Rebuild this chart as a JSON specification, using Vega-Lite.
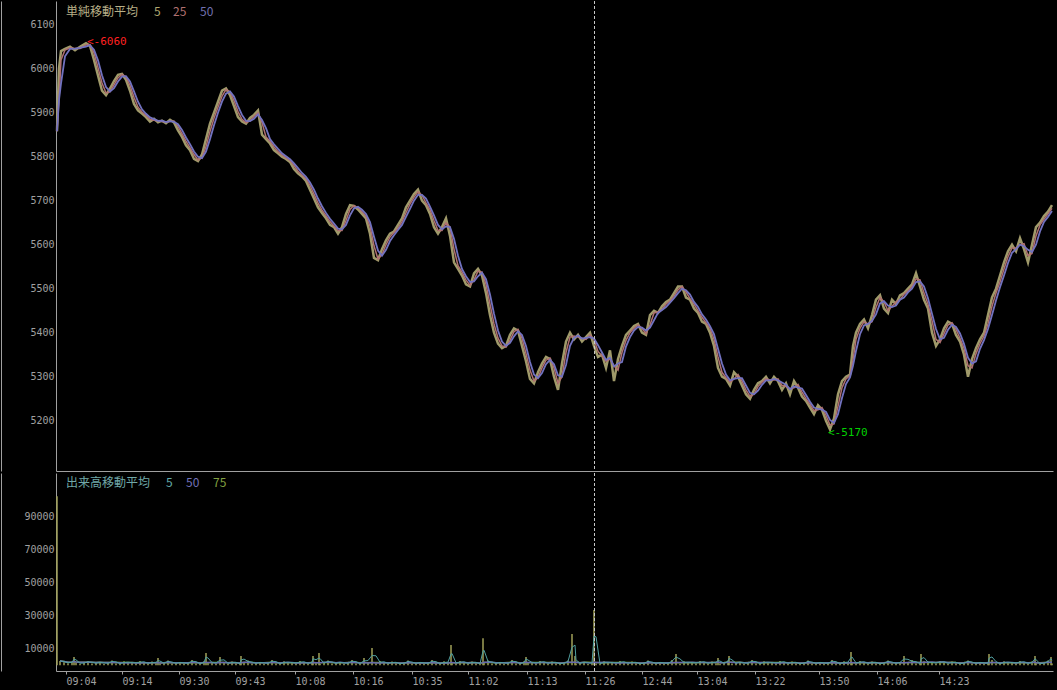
{
"$schema": "https://vega.github.io/schema/vega-lite/v6.json",
"background": "#000000",
"padding": 0,
"spacing": 0,
"config": {"view": {"stroke": null}, "concat": {"spacing": 0},
  "axis": {"domainColor": "#a0a0a0", "labelColor": "#a0a0a0", "tickColor": "#a0a0a0", "labelFont": "DejaVu Sans Mono", "labelFontSize": 10, "grid": false, "titleColor": "#a0a0a0"}},
"resolve": {"scale": {"color": "independent"}},
"datasets": {
"price": [
{"i":1,"p":5858},{"i":3,"p":6000},{"i":5,"p":6040},{"i":9,"p":6045},{"i":14,"p":6050},{"i":19,"p":6042},{"i":24,"p":6050},{"i":30,"p":6058},{"i":34,"p":6052},{"i":38,"p":6020},
{"i":42,"p":5985},{"i":46,"p":5950},{"i":50,"p":5940},{"i":54,"p":5955},{"i":58,"p":5972},{"i":62,"p":5986},{"i":66,"p":5988},{"i":70,"p":5975},{"i":74,"p":5950},{"i":78,"p":5920},
{"i":82,"p":5905},{"i":86,"p":5898},{"i":90,"p":5890},{"i":94,"p":5880},{"i":98,"p":5886},{"i":102,"p":5878},{"i":106,"p":5882},{"i":110,"p":5876},{"i":114,"p":5884},{"i":118,"p":5878},
{"i":122,"p":5860},{"i":126,"p":5845},{"i":130,"p":5826},{"i":134,"p":5815},{"i":138,"p":5795},{"i":142,"p":5790},{"i":146,"p":5805},{"i":150,"p":5840},{"i":154,"p":5875},{"i":158,"p":5900},
{"i":162,"p":5925},{"i":166,"p":5950},{"i":170,"p":5955},{"i":174,"p":5940},{"i":178,"p":5915},{"i":182,"p":5890},{"i":186,"p":5880},{"i":190,"p":5875},{"i":194,"p":5888},{"i":198,"p":5895},
{"i":202,"p":5905},{"i":206,"p":5850},{"i":210,"p":5840},{"i":214,"p":5830},{"i":218,"p":5815},{"i":222,"p":5808},{"i":226,"p":5800},{"i":230,"p":5795},{"i":234,"p":5788},{"i":238,"p":5772},
{"i":242,"p":5762},{"i":246,"p":5755},{"i":250,"p":5745},{"i":254,"p":5725},{"i":258,"p":5705},{"i":262,"p":5685},{"i":266,"p":5672},{"i":270,"p":5660},{"i":274,"p":5645},{"i":278,"p":5640},
{"i":282,"p":5625},{"i":286,"p":5640},{"i":290,"p":5670},{"i":294,"p":5690},{"i":298,"p":5688},{"i":302,"p":5680},{"i":306,"p":5670},{"i":310,"p":5660},{"i":314,"p":5625},{"i":318,"p":5570},
{"i":322,"p":5565},{"i":326,"p":5590},{"i":330,"p":5610},{"i":334,"p":5625},{"i":338,"p":5630},{"i":342,"p":5645},{"i":346,"p":5660},{"i":350,"p":5685},{"i":354,"p":5700},{"i":358,"p":5715},
{"i":362,"p":5725},{"i":366,"p":5700},{"i":370,"p":5690},{"i":374,"p":5670},{"i":378,"p":5640},{"i":382,"p":5625},{"i":386,"p":5640},{"i":390,"p":5660},{"i":394,"p":5620},{"i":398,"p":5560},
{"i":402,"p":5545},{"i":406,"p":5530},{"i":410,"p":5510},{"i":414,"p":5505},{"i":418,"p":5535},{"i":422,"p":5545},{"i":426,"p":5530},{"i":430,"p":5490},{"i":434,"p":5440},{"i":438,"p":5400},
{"i":442,"p":5375},{"i":446,"p":5365},{"i":450,"p":5370},{"i":454,"p":5395},{"i":458,"p":5410},{"i":462,"p":5405},{"i":466,"p":5370},{"i":470,"p":5335},{"i":474,"p":5295},{"i":478,"p":5285},
{"i":482,"p":5310},{"i":486,"p":5330},{"i":490,"p":5345},{"i":494,"p":5340},{"i":498,"p":5300},{"i":502,"p":5270},{"i":506,"p":5330},{"i":510,"p":5380},{"i":514,"p":5400},{"i":518,"p":5385},
{"i":522,"p":5395},{"i":526,"p":5380},{"i":530,"p":5390},{"i":534,"p":5400},{"i":538,"p":5370},{"i":542,"p":5345},{"i":546,"p":5350},{"i":550,"p":5320},{"i":554,"p":5360},{"i":558,"p":5290},
{"i":562,"p":5340},{"i":566,"p":5370},{"i":570,"p":5395},{"i":574,"p":5405},{"i":578,"p":5415},{"i":582,"p":5420},{"i":586,"p":5400},{"i":590,"p":5395},{"i":594,"p":5440},{"i":598,"p":5450},
{"i":602,"p":5445},{"i":606,"p":5460},{"i":610,"p":5470},{"i":614,"p":5475},{"i":618,"p":5490},{"i":622,"p":5505},{"i":626,"p":5505},{"i":630,"p":5480},{"i":634,"p":5475},{"i":638,"p":5455},
{"i":642,"p":5445},{"i":646,"p":5425},{"i":650,"p":5420},{"i":654,"p":5400},{"i":658,"p":5370},{"i":662,"p":5320},{"i":666,"p":5300},{"i":670,"p":5295},{"i":674,"p":5280},{"i":678,"p":5310},
{"i":682,"p":5300},{"i":686,"p":5280},{"i":690,"p":5260},{"i":694,"p":5250},{"i":698,"p":5270},{"i":702,"p":5285},{"i":706,"p":5290},{"i":710,"p":5300},{"i":714,"p":5285},{"i":718,"p":5300},
{"i":722,"p":5290},{"i":726,"p":5270},{"i":730,"p":5285},{"i":734,"p":5260},{"i":738,"p":5290},{"i":742,"p":5275},{"i":746,"p":5255},{"i":750,"p":5245},{"i":754,"p":5230},{"i":758,"p":5215},
{"i":762,"p":5235},{"i":766,"p":5225},{"i":770,"p":5200},{"i":774,"p":5180},{"i":778,"p":5205},{"i":782,"p":5260},{"i":786,"p":5290},{"i":790,"p":5300},{"i":794,"p":5305},{"i":797,"p":5370},
{"i":800,"p":5400},{"i":804,"p":5420},{"i":808,"p":5430},{"i":812,"p":5410},{"i":816,"p":5440},{"i":820,"p":5475},{"i":824,"p":5485},{"i":828,"p":5455},{"i":832,"p":5445},{"i":836,"p":5475},
{"i":840,"p":5465},{"i":844,"p":5485},{"i":848,"p":5490},{"i":852,"p":5500},{"i":856,"p":5510},{"i":860,"p":5535},{"i":864,"p":5505},{"i":868,"p":5475},{"i":872,"p":5455},{"i":876,"p":5400},
{"i":880,"p":5370},{"i":884,"p":5385},{"i":888,"p":5410},{"i":892,"p":5425},{"i":896,"p":5420},{"i":900,"p":5395},{"i":904,"p":5380},{"i":908,"p":5350},{"i":912,"p":5300},{"i":916,"p":5340},
{"i":920,"p":5365},{"i":924,"p":5385},{"i":928,"p":5400},{"i":932,"p":5440},{"i":936,"p":5480},{"i":940,"p":5500},{"i":944,"p":5530},{"i":948,"p":5560},{"i":952,"p":5585},{"i":956,"p":5600},
{"i":960,"p":5585},{"i":964,"p":5615},{"i":968,"p":5590},{"i":972,"p":5560},{"i":976,"p":5600},{"i":980,"p":5640},{"i":984,"p":5650},{"i":988,"p":5665},{"i":992,"p":5675},{"i":996,"p":5690}
],
"vol": [
{"i":1,"v":102000},{"i":4,"v":2600},{"i":8,"v":1800},{"i":12,"v":1200},{"i":16,"v":2200},{"i":18,"v":5000},{"i":20,"v":1500},{"i":24,"v":900},{"i":28,"v":1700},{"i":32,"v":2400},{"i":36,"v":1100},{"i":40,"v":1400},
{"i":44,"v":2000},{"i":48,"v":800},{"i":52,"v":1600},{"i":56,"v":2900},{"i":60,"v":1100},{"i":64,"v":900},{"i":68,"v":2400},{"i":72,"v":1300},{"i":76,"v":1900},{"i":80,"v":1000},
{"i":84,"v":2600},{"i":88,"v":1500},{"i":92,"v":900},{"i":96,"v":2300},{"i":100,"v":1200},{"i":102,"v":4300},{"i":104,"v":700},{"i":108,"v":1800},{"i":112,"v":2800},{"i":116,"v":1000},
{"i":120,"v":1400},{"i":124,"v":2000},{"i":128,"v":800},{"i":132,"v":1600},{"i":136,"v":3200},{"i":140,"v":1100},{"i":144,"v":900},{"i":148,"v":2400},{"i":150,"v":7400},{"i":152,"v":1300},
{"i":156,"v":1900},{"i":160,"v":1000},{"i":164,"v":5000},{"i":168,"v":1500},{"i":172,"v":900},{"i":176,"v":2300},{"i":180,"v":1200},{"i":184,"v":700},{"i":185,"v":5600},{"i":188,"v":1800},
{"i":192,"v":2800},{"i":196,"v":1000},{"i":200,"v":1400},{"i":204,"v":2000},{"i":208,"v":800},{"i":212,"v":1600},{"i":216,"v":3200},{"i":220,"v":1100},{"i":224,"v":900},{"i":228,"v":2400},
{"i":232,"v":1300},{"i":236,"v":1900},{"i":240,"v":1000},{"i":244,"v":2600},{"i":248,"v":1500},{"i":252,"v":900},{"i":256,"v":2300},{"i":257,"v":5500},{"i":260,"v":1200},{"i":263,"v":7400},
{"i":264,"v":700},{"i":268,"v":1800},{"i":272,"v":2800},{"i":276,"v":1000},{"i":280,"v":1400},{"i":284,"v":2000},{"i":288,"v":800},{"i":292,"v":1600},{"i":296,"v":3200},{"i":300,"v":1100},
{"i":304,"v":900},{"i":308,"v":4300},{"i":312,"v":1300},{"i":316,"v":10400},{"i":320,"v":1000},{"i":324,"v":2600},{"i":328,"v":1500},{"i":332,"v":900},{"i":336,"v":2300},{"i":340,"v":1200},
{"i":344,"v":700},{"i":348,"v":1800},{"i":352,"v":2800},{"i":356,"v":1000},{"i":360,"v":1400},{"i":364,"v":2000},{"i":368,"v":800},{"i":372,"v":1600},{"i":376,"v":3200},{"i":380,"v":1100},
{"i":384,"v":900},{"i":388,"v":2400},{"i":392,"v":1300},{"i":395,"v":12200},{"i":396,"v":1900},{"i":400,"v":1000},{"i":404,"v":2600},{"i":408,"v":1500},{"i":412,"v":900},{"i":416,"v":2300},
{"i":420,"v":1200},{"i":424,"v":700},{"i":427,"v":16300},{"i":428,"v":1800},{"i":432,"v":2800},{"i":436,"v":1000},{"i":440,"v":1400},{"i":444,"v":2000},{"i":448,"v":800},{"i":452,"v":1600},
{"i":456,"v":3200},{"i":460,"v":1100},{"i":464,"v":900},{"i":468,"v":2400},{"i":470,"v":5000},{"i":472,"v":1300},{"i":476,"v":1900},{"i":480,"v":1000},{"i":484,"v":2600},{"i":488,"v":1500},
{"i":492,"v":900},{"i":496,"v":2300},{"i":500,"v":1200},{"i":504,"v":700},{"i":508,"v":1800},{"i":512,"v":2800},{"i":516,"v":18800},{"i":519,"v":5500},{"i":520,"v":1000},{"i":524,"v":1400},
{"i":528,"v":2000},{"i":532,"v":800},{"i":536,"v":1600},{"i":538,"v":33300},{"i":540,"v":1100},{"i":544,"v":900},{"i":548,"v":2400},{"i":552,"v":1300},{"i":556,"v":1900},{"i":560,"v":1000},
{"i":564,"v":2600},{"i":568,"v":1500},{"i":572,"v":900},{"i":576,"v":2300},{"i":580,"v":1200},{"i":584,"v":700},{"i":588,"v":1800},{"i":592,"v":2800},{"i":596,"v":1000},{"i":600,"v":1400},
{"i":604,"v":2000},{"i":608,"v":800},{"i":612,"v":1600},{"i":616,"v":3200},{"i":620,"v":6700},{"i":624,"v":900},{"i":628,"v":2400},{"i":632,"v":1300},{"i":636,"v":1900},{"i":640,"v":1000},
{"i":644,"v":2600},{"i":648,"v":1500},{"i":652,"v":900},{"i":656,"v":2300},{"i":660,"v":1200},{"i":662,"v":4300},{"i":664,"v":700},{"i":668,"v":1800},{"i":672,"v":2800},{"i":673,"v":5500},
{"i":676,"v":1000},{"i":680,"v":1400},{"i":684,"v":2000},{"i":688,"v":800},{"i":692,"v":1600},{"i":696,"v":3200},{"i":700,"v":1100},{"i":704,"v":900},{"i":708,"v":2400},{"i":712,"v":1300},
{"i":716,"v":1900},{"i":720,"v":1000},{"i":724,"v":2600},{"i":728,"v":1500},{"i":732,"v":900},{"i":736,"v":2300},{"i":740,"v":1200},{"i":744,"v":700},{"i":748,"v":1800},{"i":752,"v":2800},
{"i":756,"v":1000},{"i":760,"v":1400},{"i":764,"v":2000},{"i":768,"v":800},{"i":772,"v":1600},{"i":776,"v":3200},{"i":780,"v":1100},{"i":784,"v":900},{"i":788,"v":2400},{"i":792,"v":1300},
{"i":795,"v":8000},{"i":796,"v":1900},{"i":800,"v":1000},{"i":804,"v":2600},{"i":808,"v":1500},{"i":812,"v":900},{"i":816,"v":2300},{"i":820,"v":1200},{"i":824,"v":700},{"i":828,"v":1800},
{"i":832,"v":2800},{"i":836,"v":1000},{"i":840,"v":1400},{"i":844,"v":2000},{"i":848,"v":5500},{"i":852,"v":1600},{"i":856,"v":3200},{"i":860,"v":1100},{"i":864,"v":900},{"i":865,"v":6800},
{"i":868,"v":2400},{"i":872,"v":1300},{"i":876,"v":1900},{"i":880,"v":1000},{"i":884,"v":2600},{"i":888,"v":1500},{"i":892,"v":900},{"i":896,"v":2300},{"i":900,"v":1200},{"i":904,"v":700},
{"i":908,"v":1800},{"i":912,"v":2800},{"i":916,"v":1000},{"i":920,"v":1400},{"i":924,"v":2000},{"i":928,"v":800},{"i":932,"v":1600},{"i":933,"v":6800},{"i":936,"v":3200},{"i":940,"v":1100},
{"i":944,"v":900},{"i":948,"v":2400},{"i":952,"v":1300},{"i":956,"v":1900},{"i":960,"v":1000},{"i":964,"v":2600},{"i":968,"v":1500},{"i":972,"v":900},{"i":976,"v":2300},{"i":979,"v":5500},
{"i":980,"v":1200},{"i":984,"v":700},{"i":988,"v":1800},{"i":992,"v":2800},{"i":995,"v":5000},{"i":996,"v":1000}
],
"labtop": [
{"t":"単純移動平均","s":"title","i":10,"p":6129},
{"t":"5","s":"5","i":98,"p":6129},
{"t":"25","s":"25","i":117,"p":6129},
{"t":"50","s":"50","i":144,"p":6129}
],
"ann": [
{"t":"<-6060","s":"hi","i":31,"p":6060},
{"t":"<-5170","s":"lo","i":772,"p":5172}
],
"labvol": [
{"t":"出来高移動平均","s":"vtitle","i":10,"v":110300},
{"t":"5","s":"v5","i":110,"v":110300},
{"t":"50","s":"v50","i":130,"v":110300},
{"t":"75","s":"v75","i":157,"v":110300}
],
"cursor": [{"i":538.5}]
},
"vconcat": [
{
"width": 997, "height": 470,
"layer": [
{"data": {"name": "price"}, "mark": {"type": "line", "color": "#a09a6a", "strokeWidth": 2.5},
 "encoding": {
  "x": {"field": "i", "type": "quantitative", "scale": {"domain": [0, 997], "nice": false, "zero": false}, "axis": {"orient": "bottom", "labels": false, "ticks": false, "domain": true, "title": null, "minExtent": 0, "maxExtent": 0}},
  "y": {"field": "p", "type": "quantitative", "scale": {"domain": [5085.7, 6153.9], "nice": false, "zero": false}, "axis": {"orient": "left", "values": [5200, 5300, 5400, 5500, 5600, 5700, 5800, 5900, 6000, 6100], "format": "d", "ticks": false, "labelPadding": 2, "minExtent": 56, "maxExtent": 56, "title": null}}}},
{"data": {"name": "price"}, "transform": [{"window": [{"op": "mean", "field": "p", "as": "m25"}], "sort": [{"field": "i"}], "frame": [-1, 0]}],
 "mark": {"type": "line", "color": "#b07070", "strokeWidth": 1.5},
 "encoding": {"x": {"field": "i", "type": "quantitative", "axis": null}, "y": {"field": "m25", "type": "quantitative", "axis": null}}},
{"data": {"name": "price"}, "transform": [{"window": [{"op": "mean", "field": "p", "as": "m50"}], "sort": [{"field": "i"}], "frame": [-2, 0]}],
 "mark": {"type": "line", "color": "#7272c0", "strokeWidth": 1.8},
 "encoding": {"x": {"field": "i", "type": "quantitative", "axis": null}, "y": {"field": "m50", "type": "quantitative", "axis": null}}},
{"data": {"name": "labtop"}, "mark": {"type": "text", "align": "left", "baseline": "middle", "font": "Noto Sans CJK JP", "fontSize": 12},
 "encoding": {
  "x": {"field": "i", "type": "quantitative", "axis": null},
  "y": {"field": "p", "type": "quantitative", "axis": {"orient": "left", "offset": 55, "labels": false, "ticks": false, "domain": true, "title": null}},
  "text": {"field": "t"},
  "color": {"field": "s", "type": "nominal", "scale": {"domain": ["title", "5", "25", "50", "hi", "lo"], "range": ["#b8b088", "#b0a870", "#b07070", "#7070b0", "#ff2020", "#00d000"]}, "legend": null}}},
{"data": {"name": "ann"}, "mark": {"type": "text", "align": "left", "baseline": "middle", "font": "DejaVu Sans Mono", "fontSize": 11},
 "encoding": {
  "x": {"field": "i", "type": "quantitative", "axis": null},
  "y": {"field": "p", "type": "quantitative", "axis": null},
  "text": {"field": "t"},
  "color": {"field": "s", "type": "nominal", "scale": {"domain": ["title", "5", "25", "50", "hi", "lo"], "range": ["#b8b088", "#b0a870", "#b07070", "#7070b0", "#ff2020", "#00d000"]}, "legend": null}}},
{"data": {"name": "cursor"}, "mark": {"type": "rule", "color": "#c8c8c8", "strokeDash": [3, 2], "strokeWidth": 1},
 "encoding": {"x": {"field": "i", "type": "quantitative", "axis": null}}}
],
"resolve": {"axis": {"x": "independent", "y": "independent"}}
},
{
"width": 997, "height": 198,
"layer": [
{"data": {"name": "vol"}, "mark": {"type": "rule", "color": "#a0a058", "strokeWidth": 1.5},
 "encoding": {
  "x": {"field": "i", "type": "quantitative", "scale": {"domain": [0, 997], "nice": false, "zero": false},
        "axis": {"orient": "bottom", "values": [10, 66, 123, 179, 239, 297, 356, 412, 471, 529, 586, 641, 699, 763, 821, 883],
                 "labelExpr": "['09:04','09:14','09:30','09:43','10:08','10:16','10:35','11:02','11:13','11:26','12:44','13:04','13:22','13:50','14:06','14:23'][indexof([10,66,123,179,239,297,356,412,471,529,586,641,699,763,821,883], datum.value)]",
                 "tickSize": 3, "labelPadding": 2, "labelAlign": "left", "labelDx": 2, "labelOverlap": false, "labelFlush": false, "title": null, "minExtent": 19, "maxExtent": 19}},
  "y": {"field": "v", "type": "quantitative", "scale": {"domain": [-3500, 116100], "nice": false, "zero": false},
        "axis": {"orient": "left", "values": [10000, 30000, 50000, 70000, 90000], "format": "d", "ticks": false, "labelPadding": 2, "minExtent": 56, "maxExtent": 56, "title": null}},
  "y2": {"datum": 0}}},
{"data": {"name": "vol"}, "transform": [{"filter": "datum.i > 1"}, {"window": [{"op": "median", "field": "v", "as": "m75"}], "sort": [{"field": "i"}], "frame": [-18, 0]}],
 "mark": {"type": "line", "color": "#70a030", "strokeWidth": 1.5},
 "encoding": {"x": {"field": "i", "type": "quantitative", "axis": null}, "y": {"field": "m75", "type": "quantitative", "axis": null}}},
{"data": {"name": "vol"}, "transform": [{"filter": "datum.i > 1"}, {"window": [{"op": "median", "field": "v", "as": "m50"}], "sort": [{"field": "i"}], "frame": [-12, 0]}],
 "mark": {"type": "line", "color": "#6868b0", "strokeWidth": 1.5},
 "encoding": {"x": {"field": "i", "type": "quantitative", "axis": null}, "y": {"field": "m50", "type": "quantitative", "axis": null}}},
{"data": {"name": "vol"}, "transform": [{"filter": "datum.i > 1"}, {"window": [{"op": "mean", "field": "v", "as": "m5"}], "sort": [{"field": "i"}], "frame": [-1, 0]}],
 "mark": {"type": "line", "color": "#50a0a0", "strokeWidth": 1},
 "encoding": {"x": {"field": "i", "type": "quantitative", "axis": null}, "y": {"field": "m5", "type": "quantitative", "axis": null}}},
{"data": {"name": "labvol"}, "mark": {"type": "text", "align": "left", "baseline": "middle", "font": "Noto Sans CJK JP", "fontSize": 12},
 "encoding": {
  "x": {"field": "i", "type": "quantitative", "axis": {"orient": "bottom", "offset": 19, "labels": false, "ticks": false, "domain": true, "title": null}},
  "y": {"field": "v", "type": "quantitative", "axis": {"orient": "left", "offset": 55, "labels": false, "ticks": false, "domain": true, "title": null}},
  "text": {"field": "t"},
  "color": {"field": "s", "type": "nominal", "scale": {"domain": ["vtitle", "v5", "v50", "v75"], "range": ["#70a8a8", "#60a8a8", "#7070b8", "#80a040"]}, "legend": null}}},
{"data": {"name": "cursor"}, "mark": {"type": "rule", "color": "#c8c8c8", "strokeDash": [3, 2], "strokeWidth": 1},
 "encoding": {"x": {"field": "i", "type": "quantitative", "axis": null}}}
],
"resolve": {"axis": {"x": "independent", "y": "independent"}}
}
]
}
